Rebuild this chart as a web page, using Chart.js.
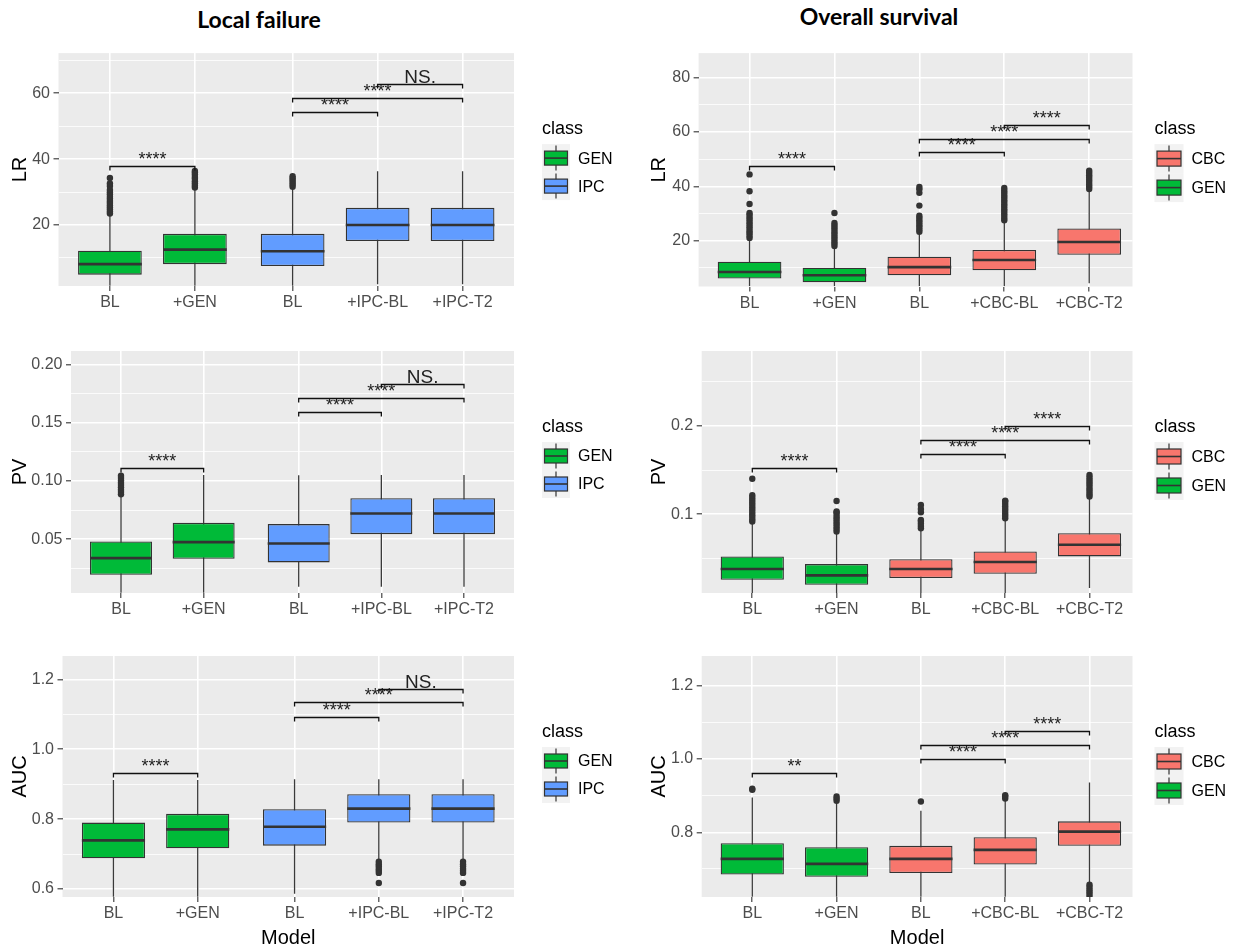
<!DOCTYPE html>
<html>
<head>
<meta charset="utf-8">
<script src="https://cdn.jsdelivr.net/npm/chart.js@4.4.1/dist/chart.umd.min.js"></script>
<style>
body { margin: 0; background: #fff; width: 1236px; height: 949px; position: relative; overflow: hidden; }
canvas { position: absolute; }
.title { position: absolute; width: 300px; text-align: center; font-family: Lato, "Open Sans", sans-serif; font-weight: 700; font-size: 23px; line-height: 23px; color: #000; }
</style>
</head>
<body>
<div class="title" style="left:109px;top:8px">Local failure</div>
<div class="title" style="left:729px;top:5px">Overall survival</div>
<canvas id="lfLR"></canvas>
<canvas id="lfPV"></canvas>
<canvas id="lfAUC"></canvas>
<canvas id="osLR"></canvas>
<canvas id="osPV"></canvas>
<canvas id="osAUC"></canvas>
<script>
// ---- shared categories ----
const lfModels = ['BL', '+GEN', 'BL', '+IPC-BL', '+IPC-T2'];
const lfClass = ['GEN', 'GEN', 'IPC', 'IPC', 'IPC'];
const lfPos = [1, 2, 3.15, 4.15, 5.15];
const osModels = ['BL', '+GEN', 'BL', '+CBC-BL', '+CBC-T2'];
const osClass = ['GEN', 'GEN', 'CBC', 'CBC', 'CBC'];
const osPos = [1, 2, 3, 4, 5];
const bracketPairs = [[1, 2], [3, 4], [3, 5], [4, 5]];
const lfSig = ['****', '****', '****', 'NS.'];
const osSig = ['****', '****', '****', '****'];
const osAucSig = ['**', '****', '****', '****'];

// ---- Local failure: LR ----
const lfLrLo = [1.5, 1.5, 1.5, 2.0, 2.0];
const lfLrQ1 = [4.9, 8.1, 7.5, 15.1, 15.1];
const lfLrMed = [8.1, 12.5, 12.0, 20.0, 20.0];
const lfLrQ3 = [12.2, 17.3, 17.3, 25.2, 25.2];
const lfLrHi = [23.9, 31.2, 31.5, 36.3, 36.3];
const lfLrOut = [
  [23.5, 24.1, 24.8, 25.4, 26.0, 26.7, 27.3, 28.0, 28.6, 29.3, 29.9, 30.6, 31.8, 32.6, 34.3],
  [31.4, 32.0, 32.7, 33.3, 34.0, 34.6, 35.3, 35.9, 36.4],
  [31.6, 32.3, 32.9, 33.6, 34.2, 34.8],
  [], []
];
const lfLrBrk = [37.9, 54.4, 58.5, 62.9];
const lfLrTicks = [20, 40, 60];
const lfLrTickLabels = ['20', '40', '60'];
const lfLrMinor = [10, 30, 50, 70];

// ---- Local failure: PV ----
const lfPvLo = [0.004, 0.004, 0.009, 0.009, 0.009];
const lfPvQ1 = [0.0194, 0.0331, 0.030, 0.0543, 0.0543];
const lfPvMed = [0.0337, 0.0474, 0.0463, 0.072, 0.072];
const lfPvQ3 = [0.048, 0.064, 0.0629, 0.0851, 0.0851];
const lfPvHi = [0.0866, 0.1051, 0.105, 0.1051, 0.1051];
const lfPvOut = [
  [0.0885, 0.0905, 0.0925, 0.0945, 0.0965, 0.0985, 0.1005, 0.1025, 0.1045],
  [], [], [], []
];
const lfPvBrk = [0.1109, 0.1594, 0.1717, 0.1837];
const lfPvTicks = [0.05, 0.10, 0.15, 0.20];
const lfPvTickLabels = ['0.05', '0.10', '0.15', '0.20'];
const lfPvMinor = [0.025, 0.075, 0.125, 0.175];

// ---- Local failure: AUC ----
const lfAucLo = [0.578, 0.578, 0.586, 0.681, 0.681];
const lfAucQ1 = [0.688, 0.7165, 0.724, 0.790, 0.790];
const lfAucMed = [0.739, 0.7706, 0.778, 0.830, 0.830];
const lfAucQ3 = [0.790, 0.815, 0.8285, 0.871, 0.871];
const lfAucHi = [0.912, 0.912, 0.914, 0.914, 0.914];
const lfAucOut = [
  [], [], [],
  [0.678, 0.671, 0.665, 0.658, 0.652, 0.646, 0.617],
  [0.678, 0.671, 0.665, 0.658, 0.652, 0.646, 0.617]
];
const lfAucBrk = [0.931, 1.092, 1.135, 1.173];
const lfAucTicks = [0.6, 0.8, 1.0, 1.2];
const lfAucTickLabels = ['0.6', '0.8', '1.0', '1.2'];
const lfAucMinor = [0.7, 0.9, 1.1];

// ---- Overall survival: LR ----
const osLrLo = [3.2, 3.2, 3.2, 3.2, 4.3];
const osLrQ1 = [6.07, 4.64, 7.26, 9.05, 14.76];
const osLrMed = [8.45, 7.26, 10.24, 12.86, 19.5];
const osLrQ3 = [12.26, 10.0, 14.05, 16.55, 24.5];
const osLrHi = [20.4, 17.4, 22.7, 27.1, 38.8];
const osLrOut = [
  [21.0, 21.8, 22.7, 23.5, 24.4, 25.2, 26.1, 26.9, 27.8, 28.6, 29.5, 30.2, 33.5, 38.2, 44.4],
  [18.0, 18.9, 19.7, 20.6, 21.4, 22.3, 23.1, 24.0, 24.8, 25.7, 26.5, 30.2],
  [23.3, 24.1, 25.0, 25.8, 26.7, 27.5, 28.4, 29.2, 32.9, 37.6, 38.9, 39.8],
  [27.5, 28.3, 29.2, 30.0, 30.9, 31.7, 32.6, 33.4, 34.3, 35.1, 36.0, 36.8, 37.7, 38.5, 39.4],
  [39.0, 39.9, 40.7, 41.6, 42.4, 43.3, 44.1, 45.0, 45.8]
];
const osLrBrk = [47.5, 52.5, 57.6, 62.6];
const osLrTicks = [20, 40, 60, 80];
const osLrTickLabels = ['20', '40', '60', '80'];
const osLrMinor = [10, 30, 50, 70];

// ---- Overall survival: PV ----
const osPvLo = [0.011, 0.011, 0.011, 0.011, 0.0165];
const osPvQ1 = [0.0259, 0.0203, 0.0278, 0.0327, 0.0523];
const osPvMed = [0.038, 0.0308, 0.038, 0.0459, 0.0654];
const osPvQ3 = [0.0523, 0.0436, 0.0492, 0.0579, 0.0786];
const osPvHi = [0.0898, 0.0786, 0.0823, 0.0936, 0.118];
const osPvOut = [
  [0.0917, 0.0944, 0.0971, 0.0998, 0.1025, 0.1052, 0.1079, 0.1106, 0.1133, 0.1160, 0.1187, 0.1215, 0.1402],
  [0.0805, 0.0832, 0.0859, 0.0886, 0.0913, 0.0940, 0.0967, 0.0994, 0.1021, 0.1030, 0.1150],
  [0.0842, 0.0868, 0.0895, 0.0922, 0.0936, 0.1023, 0.1060, 0.1105],
  [0.0955, 0.0982, 0.1009, 0.1036, 0.1063, 0.1090, 0.1117, 0.1144, 0.1154],
  [0.1200, 0.1227, 0.1254, 0.1281, 0.1308, 0.1335, 0.1362, 0.1389, 0.1416, 0.1444]
];
const osPvBrk = [0.1519, 0.168, 0.1838, 0.2];
const osPvTicks = [0.1, 0.2];
const osPvTickLabels = ['0.1', '0.2'];
const osPvMinor = [0.05, 0.15, 0.25];

// ---- Overall survival: AUC ----
const osAucLo = [0.624, 0.624, 0.624, 0.624, 0.66];
const osAucQ1 = [0.685, 0.6787, 0.6887, 0.7122, 0.763];
const osAucMed = [0.7276, 0.714, 0.7276, 0.752, 0.8018];
const osAucQ3 = [0.770, 0.7593, 0.763, 0.7864, 0.8299];
const osAucHi = [0.895, 0.8814, 0.8588, 0.8905, 0.9357];
const osAucOut = [
  [0.916, 0.919],
  [0.886, 0.892, 0.898],
  [0.884],
  [0.892, 0.898, 0.901],
  [0.657, 0.651, 0.644, 0.638, 0.632, 0.626]
];
const osAucBrk = [0.961, 0.999, 1.037, 1.076];
const osAucTicks = [0.8, 1.0, 1.2];
const osAucTickLabels = ['0.8', '1.0', '1.2'];
const osAucMinor = [0.7, 0.9, 1.1];

const CLASS_COLORS = { GEN: '#00BA38', IPC: '#619CFF', CBC: '#F8766D' };

const TXT = '"Liberation Sans", Arial, sans-serif';
const TICK_SIZE = 16;
const AXT_SIZE = 20;
const KEY_SIZE = 16;
const STAR_SIZE = 18;
const NS_SIZE = 19;

const bracketPlugin = {
  id: 'brackets',
  afterDatasetsDraw(chart, args, opts) {
    const { ctx, scales: { x, y } } = chart;
    ctx.save();
    ctx.strokeStyle = '#111';
    ctx.lineWidth = 1.3;
    ctx.fillStyle = '#222';
    ctx.textAlign = 'center';
    ctx.textBaseline = 'alphabetic';
    opts.items.forEach(b => {
      const x1 = x.getPixelForValue(b.from);
      const x2 = x.getPixelForValue(b.to);
      const py = Math.round(y.getPixelForValue(b.y)) + 0.5;
      ctx.beginPath();
      ctx.moveTo(x1, py + 4);
      ctx.lineTo(x1, py);
      ctx.lineTo(x2, py);
      ctx.lineTo(x2, py + 4);
      ctx.stroke();
      const sz = b.label === 'NS.' ? NS_SIZE : STAR_SIZE;
      ctx.font = sz + 'px ' + TXT;
      ctx.fillText(b.label, (x1 + x2) / 2, py - 1.5);
    });
    ctx.restore();
  }
};

const keyPlugin = {
  id: 'classKey',
  afterDraw(chart, args, opts) {
    const { ctx, chartArea } = chart;
    const lx = chartArea.right + opts.dx;
    const ty = chartArea.top;
    const ks = opts.size;
    ctx.save();
    ctx.fillStyle = '#000';
    ctx.textAlign = 'left';
    ctx.textBaseline = 'middle';
    ctx.font = '18px ' + TXT;
    ctx.fillText('class', lx, ty + 76);
    opts.items.forEach((name, k) => {
      const ky = ty + 91 + k * ks;
      const cx = lx + ks / 2;
      ctx.fillStyle = '#F2F2F2';
      ctx.fillRect(lx, ky, ks, ks);
      ctx.strokeStyle = '#333';
      ctx.lineWidth = 1.2;
      ctx.beginPath();
      ctx.moveTo(cx, ky + 1.5);
      ctx.lineTo(cx, ky + ks - 1.5);
      ctx.stroke();
      ctx.fillStyle = CLASS_COLORS[name];
      ctx.fillRect(lx + 2.5, ky + 7, ks - 5, ks - 14);
      ctx.strokeRect(lx + 2.5, ky + 7, ks - 5, ks - 14);
      ctx.lineWidth = 1.6;
      ctx.beginPath();
      ctx.moveTo(lx + 2.5, ky + ks / 2);
      ctx.lineTo(lx + ks - 2.5, ky + ks / 2);
      ctx.stroke();
      ctx.fillStyle = '#000';
      ctx.font = KEY_SIZE + 'px ' + TXT;
      ctx.fillText(name, lx + ks + 8, ky + ks / 2 + 1);
    });
    ctx.restore();
  }
};

const panelBg = {
  id: 'panelBg',
  beforeDraw(chart) {
    const { ctx, chartArea: a } = chart;
    ctx.save();
    ctx.fillStyle = '#EBEBEB';
    ctx.fillRect(a.left, a.top, a.right - a.left, a.bottom - a.top);
    ctx.restore();
  }
};

function boxPanel(id, o) {
  const cv = document.getElementById(id);
  const [x0, y0, w, h] = o.box;
  const [L, T, R, B] = o.area;
  cv.width = w;
  cv.height = h;
  cv.style.left = x0 + 'px';
  cv.style.top = y0 + 'px';

  const fills = o.cls.map(c => CLASS_COLORS[c]);
  const half = 0.375;
  const medLine = [];
  o.pos.forEach((p, i) => {
    medLine.push({ x: p - half, y: o.med[i] }, { x: p + half, y: o.med[i] }, { x: p + half, y: null });
  });
  const outPts = [];
  o.out.forEach((vals, i) => vals.forEach(v => outPts.push({ x: o.pos[i], y: v })));
  const brackets = o.brk.map((yv, k) => ({
    from: o.pos[bracketPairs[k][0] - 1],
    to: o.pos[bracketPairs[k][1] - 1],
    y: yv,
    label: o.sig[k]
  }));
  const isMajor = c => c.tick && o.ticks.includes(c.tick.value);

  new Chart(cv, {
    type: 'bar',
    data: {
      datasets: [
        {
          type: 'bar',
          data: o.pos.map((p, i) => ({ x: p, y: [o.lo[i], o.hi[i]] })),
          backgroundColor: '#3a3a3a',
          grouped: false, categoryPercentage: 1, barPercentage: 0.75, maxBarThickness: 1.3,
          order: 3
        },
        {
          type: 'bar',
          data: o.pos.map((p, i) => ({ x: p, y: [o.q1[i], o.q3[i]] })),
          backgroundColor: fills,
          borderColor: '#333',
          borderWidth: 1.3,
          borderSkipped: false,
          grouped: false, categoryPercentage: 1, barPercentage: 0.75,
          order: 2
        },
        {
          type: 'line',
          data: medLine,
          borderColor: '#333',
          borderWidth: 2.6,
          pointRadius: 0,
          spanGaps: false,
          order: 1
        },
        {
          type: 'scatter',
          data: outPts,
          pointRadius: 3.2,
          pointBackgroundColor: '#333',
          pointBorderWidth: 0,
          order: 0
        }
      ]
    },
    options: {
      responsive: false,
      animation: false,
      events: [],
      devicePixelRatio: 1,
      layout: { padding: { left: 0, top: T - y0, right: x0 + w - R, bottom: 0 } },
      plugins: {
        legend: { display: false },
        tooltip: { enabled: false },
        brackets: { items: brackets },
        classKey: { items: o.keys, dx: o.keyDx, size: o.keySize }
      },
      scales: {
        x: {
          type: 'linear',
          min: o.xRange[0],
          max: o.xRange[1],
          offset: false,
          afterBuildTicks: s => { s.ticks = o.pos.map(v => ({ value: v })); },
          afterFit: s => { s.height = y0 + h - B; },
          grid: { offset: false, color: '#fff', lineWidth: 1.6, tickLength: 5, tickColor: '#333', tickWidth: 1.1 },
          border: { display: false },
          ticks: {
            autoSkip: false, maxRotation: 0, minRotation: 0, padding: 2,
            color: '#4D4D4D', font: { family: TXT, size: TICK_SIZE },
            callback: (v, i) => o.models[i]
          },
          title: {
            display: !!o.xTitle, text: o.xTitle || '', color: '#000',
            font: { family: TXT, size: AXT_SIZE }, padding: { top: 0, bottom: 0 }
          }
        },
        y: {
          type: 'linear',
          min: o.yRange[0],
          max: o.yRange[1],
          afterBuildTicks: s => {
            s.ticks = o.ticks.concat(o.minor).sort((a, b) => a - b).map(v => ({ value: v }));
          },
          afterFit: s => { s.width = L - x0; },
          grid: {
            color: '#fff',
            lineWidth: c => isMajor(c) ? 1.6 : 0.8,
            tickLength: 5,
            tickColor: c => isMajor(c) ? '#333' : 'rgba(0,0,0,0)',
            tickWidth: 1.1
          },
          border: { display: false },
          ticks: {
            autoSkip: false, padding: 3.5,
            color: '#4D4D4D', font: { family: TXT, size: TICK_SIZE },
            callback: v => {
              const k = o.ticks.indexOf(v);
              return k < 0 ? '' : o.tickLabels[k];
            }
          },
          title: {
            display: true, text: o.yTitle, color: '#000',
            font: { family: TXT, size: AXT_SIZE }, padding: { top: o.ytPad, bottom: 0 }
          }
        }
      }
    },
    plugins: [panelBg, bracketPlugin, keyPlugin]
  });
}

const LEFT = { pos: lfPos, models: lfModels, cls: lfClass, sig: lfSig, keys: ['GEN', 'IPC'], keyDx: 28, keySize: 28, xRange: [0.395, 5.755], ytPad: 8 };
const RIGHT = { pos: osPos, models: osModels, cls: osClass, sig: osSig, keys: ['CBC', 'GEN'], keyDx: 22, keySize: 29, xRange: [0.4, 5.51], ytPad: 7 };

boxPanel('lfLR', Object.assign({}, LEFT, {
  box: [0, 40, 620, 280], area: [58.5, 45, 514, 286], yRange: [1.46, 72.2], yTitle: 'LR',
  lo: lfLrLo, q1: lfLrQ1, med: lfLrMed, q3: lfLrQ3, hi: lfLrHi, out: lfLrOut, brk: lfLrBrk,
  ticks: lfLrTicks, tickLabels: lfLrTickLabels, minor: lfLrMinor
}));
boxPanel('lfPV', Object.assign({}, LEFT, {
  box: [0, 330, 620, 290], area: [71, 351, 514, 593], yRange: [0.0037, 0.2117], yTitle: 'PV',
  lo: lfPvLo, q1: lfPvQ1, med: lfPvMed, q3: lfPvQ3, hi: lfPvHi, out: lfPvOut, brk: lfPvBrk,
  ticks: lfPvTicks, tickLabels: lfPvTickLabels, minor: lfPvMinor
}));
boxPanel('lfAUC', Object.assign({}, LEFT, {
  box: [0, 630, 620, 320], area: [62.5, 656, 514, 897], yRange: [0.577, 1.267], yTitle: 'AUC', xTitle: 'Model',
  lo: lfAucLo, q1: lfAucQ1, med: lfAucMed, q3: lfAucQ3, hi: lfAucHi, out: lfAucOut, brk: lfAucBrk,
  ticks: lfAucTicks, tickLabels: lfAucTickLabels, minor: lfAucMinor
}));
boxPanel('osLR', Object.assign({}, RIGHT, {
  box: [640, 40, 596, 280], area: [698.6, 45.7, 1132.5, 286.5], yRange: [3.1, 89.1], yTitle: 'LR',
  lo: osLrLo, q1: osLrQ1, med: osLrMed, q3: osLrQ3, hi: osLrHi, out: osLrOut, brk: osLrBrk,
  ticks: osLrTicks, tickLabels: osLrTickLabels, minor: osLrMinor
}));
boxPanel('osPV', Object.assign({}, RIGHT, {
  box: [640, 330, 596, 290], area: [701.7, 351, 1132.5, 593], yRange: [0.0109, 0.2846], yTitle: 'PV',
  lo: osPvLo, q1: osPvQ1, med: osPvMed, q3: osPvQ3, hi: osPvHi, out: osPvOut, brk: osPvBrk,
  ticks: osPvTicks, tickLabels: osPvTickLabels, minor: osPvMinor
}));
boxPanel('osAUC', Object.assign({}, RIGHT, {
  box: [640, 630, 596, 320], area: [701.7, 656, 1132.5, 897], yRange: [0.6235, 1.281], yTitle: 'AUC', xTitle: 'Model',
  sig: osAucSig,
  lo: osAucLo, q1: osAucQ1, med: osAucMed, q3: osAucQ3, hi: osAucHi, out: osAucOut, brk: osAucBrk,
  ticks: osAucTicks, tickLabels: osAucTickLabels, minor: osAucMinor
}));
</script>
</body>
</html>
